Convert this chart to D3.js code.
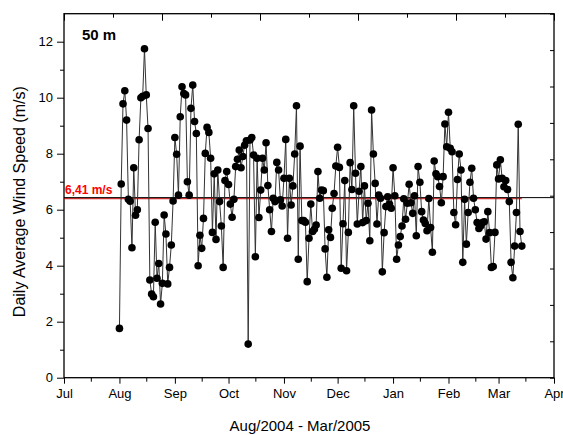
<!DOCTYPE html>
<html>
<head>
<meta charset="utf-8">
<script src="https://cdn.jsdelivr.net/npm/d3@7"></script>
<style>
  body { margin: 0; background: #fff; }
  text { font-family: Arial, "Liberation Sans", sans-serif; }
</style>
</head>
<body>
<svg id="chart" width="563" height="435"></svg>
<script>
// daily average wind speed at 50 m, one value per day starting 1 Aug 2004
var firstDay = new Date(2004, 7, 1);
var speeds = [
  1.76, 6.92, 9.78, 10.25, 9.2, 6.37, 6.3, 4.64, 7.5, 5.8, 6.0, 8.5, 10.0, 10.05, 11.75, 10.1, 8.9,
  3.49, 2.99, 2.89, 5.55, 3.55, 4.08, 2.63, 3.37, 5.81, 5.13, 3.35, 3.94, 4.74, 6.31, 8.58, 7.98,
  6.52, 9.32, 10.39, 10.15,
  10.1, 7.0, 6.52, 9.62, 10.45, 9.15, 8.72, 4.0, 5.09, 4.62, 5.69, 8.01, 8.94, 8.76, 7.84, 5.19,
  7.28, 4.94, 7.42, 6.29, 5.42, 3.94, 7.04, 7.36, 6.9, 6.2, 5.73, 6.37, 7.54, 7.8, 8.13, 7.5, 7.9,
  8.3, 8.46, 1.2,
  8.49, 8.58, 7.95, 4.32, 7.84, 5.72, 6.7, 7.84, 7.42, 8.39, 6.86, 6.0, 5.22, 6.41, 6.29, 7.69,
  7.42, 6.35, 6.13, 7.12, 8.51, 4.98, 7.12, 6.17, 6.85, 7.99, 9.71, 4.23, 8.27, 5.61, 5.61, 5.55,
  3.43, 4.98, 6.2, 5.22, 5.3, 5.45, 7.36, 6.41,
  6.7, 6.68, 4.6, 3.59, 5.28, 5.01, 6.05, 6.58, 7.56, 8.23, 7.51, 3.91, 5.5, 7.04, 3.82, 5.19,
  7.68, 6.72, 9.71, 7.3, 5.49, 6.66, 7.54, 5.54, 6.85, 5.61, 6.23, 4.89, 9.56, 7.99, 6.94, 5.49,
  6.52, 6.41, 3.78, 5.18, 6.11, 6.46,
  6.2, 6.05, 7.5, 6.5, 4.23, 4.74, 5.04, 5.42, 6.39, 5.66, 6.23, 6.91, 6.25, 5.87, 6.5, 5.07,
  7.54, 6.98, 5.93, 5.63, 5.51, 5.25, 6.4, 5.36, 4.48, 7.74, 7.28, 7.18, 6.83, 6.25, 7.18, 9.06,
  8.25, 9.48, 8.19, 8.07, 5.9, 5.46, 7.08, 7.99,
  7.42, 4.12, 6.37, 4.77, 5.9, 6.98, 7.48, 6.41, 6.0, 5.54, 5.33, 5.42, 5.54, 5.57, 4.95, 5.93,
  5.18, 3.94, 3.97, 5.19, 7.6, 7.1, 7.78, 7.12, 6.82, 7.04, 6.72, 6.29, 4.12, 3.57, 4.7, 5.9,
  9.05, 5.22, 4.7
];
var meanSpeed = 6.41;
var meanLabel = "6,41 m/s";
var heightLabel = "50 m";
var yTicks = [0, 2, 4, 6, 8, 10, 12];
var yMinorTicks = [1, 3, 5, 7, 9, 11];

var data = speeds.map(function(v, i) {
  return { date: d3.timeDay.offset(firstDay, i), value: v };
});

var svg = d3.select("#chart");
var mLeft = 64, mRight = 554, mTop = 13.7, mBottom = 377.7;

var x = d3.scaleTime()
  .domain([new Date(2004, 6, 1), new Date(2005, 3, 1)])
  .range([mLeft, mRight]);
var y = d3.scaleLinear().domain([0, 13]).range([mBottom, mTop]);

// bottom axis
svg.append("g")
  .attr("transform", "translate(0," + mBottom + ")")
  .call(d3.axisBottom(x).ticks(d3.timeMonth.every(1)).tickFormat(d3.timeFormat("%b"))
    .tickSize(6).tickPadding(5))
  .call(function(g) {
    g.select(".domain").remove();
    g.selectAll("text").attr("font-size", 13).attr("fill", "#000");
  });
svg.append("g")
  .attr("transform", "translate(0," + mBottom + ")")
  .call(d3.axisBottom(x).tickValues(d3.timeMonth.range(new Date(2004, 6, 1), new Date(2005, 3, 1))
    .map(function(d) { return d3.timeDay.offset(d, 15); })).tickSize(4).tickFormat(""))
  .call(function(g) { g.select(".domain").remove(); });

// left axis
svg.append("g")
  .attr("transform", "translate(" + mLeft + ",0)")
  .call(d3.axisLeft(y).tickValues(yTicks).tickSize(7).tickPadding(4))
  .call(function(g) {
    g.select(".domain").remove();
    g.selectAll("text").attr("font-size", 13).attr("fill", "#000");
  });
svg.append("g")
  .attr("transform", "translate(" + mLeft + ",0)")
  .call(d3.axisLeft(y).tickValues(yMinorTicks).tickSize(4).tickFormat(""))
  .call(function(g) { g.select(".domain").remove(); });

// top and right axes, no labels
var xt = d3.scaleLinear().domain([0, 10]).range([mLeft, mRight]);
svg.append("g")
  .attr("transform", "translate(0," + mTop + ")")
  .call(d3.axisTop(xt).tickValues([0, 2, 4, 6, 8, 10]).tickSize(-7).tickFormat(""))
  .call(function(g) { g.select(".domain").remove(); });
svg.append("g")
  .attr("transform", "translate(0," + mTop + ")")
  .call(d3.axisTop(xt).tickValues([1, 3, 5, 7, 9]).tickSize(-4).tickFormat(""))
  .call(function(g) { g.select(".domain").remove(); });
var yr = d3.scaleLinear().domain([0, 10]).range([mBottom, mTop]);
svg.append("g")
  .attr("transform", "translate(" + mRight + ",0)")
  .call(d3.axisRight(yr).ticks(10).tickSize(-4).tickFormat(""))
  .call(function(g) { g.select(".domain").remove(); });

svg.selectAll(".tick line").attr("stroke", "#000").attr("stroke-width", 1);

// frame
svg.append("rect")
  .attr("x", mLeft).attr("y", mTop)
  .attr("width", mRight - mLeft).attr("height", mBottom - mTop)
  .attr("fill", "none").attr("stroke", "#000").attr("stroke-width", 1.3);

// mean line: black across the frame, red under it over the data range
svg.append("line")
  .attr("x1", mLeft).attr("x2", x(data[data.length - 1].date))
  .attr("y1", y(meanSpeed) + 0.5).attr("y2", y(meanSpeed) + 0.5)
  .attr("stroke", "#d00000").attr("stroke-width", 1);
svg.append("line")
  .attr("x1", mLeft).attr("x2", mRight)
  .attr("y1", y(meanSpeed) - 0.6).attr("y2", y(meanSpeed) - 0.6)
  .attr("stroke", "#000").attr("stroke-width", 1);

// series
var line = d3.line()
  .x(function(d) { return x(d.date); })
  .y(function(d) { return y(d.value); });
svg.append("path")
  .datum(data)
  .attr("d", line)
  .attr("fill", "none")
  .attr("stroke", "#333")
  .attr("stroke-width", 1);
svg.append("g").selectAll("circle")
  .data(data)
  .enter().append("circle")
  .attr("cx", function(d) { return x(d.date); })
  .attr("cy", function(d) { return y(d.value); })
  .attr("r", 3.8)
  .attr("fill", "#000");

// labels
svg.append("text")
  .attr("x", 65).attr("y", y(meanSpeed) - 4)
  .attr("font-size", 12).attr("font-weight", "bold").attr("fill", "#ff0000")
  .text(meanLabel);
svg.append("text")
  .attr("x", 82).attr("y", 39.5)
  .attr("font-size", 15).attr("font-weight", "bold")
  .text(heightLabel);
svg.append("text")
  .attr("transform", "translate(25," + ((mTop + mBottom) / 2 + 6) + ") rotate(-90)")
  .attr("text-anchor", "middle")
  .attr("font-size", 16)
  .text("Daily Average Wind Speed (m/s)");
svg.append("text")
  .attr("x", 300).attr("y", 431)
  .attr("text-anchor", "middle")
  .attr("font-size", 15)
  .text("Aug/2004 - Mar/2005");
</script>
</body>
</html>
